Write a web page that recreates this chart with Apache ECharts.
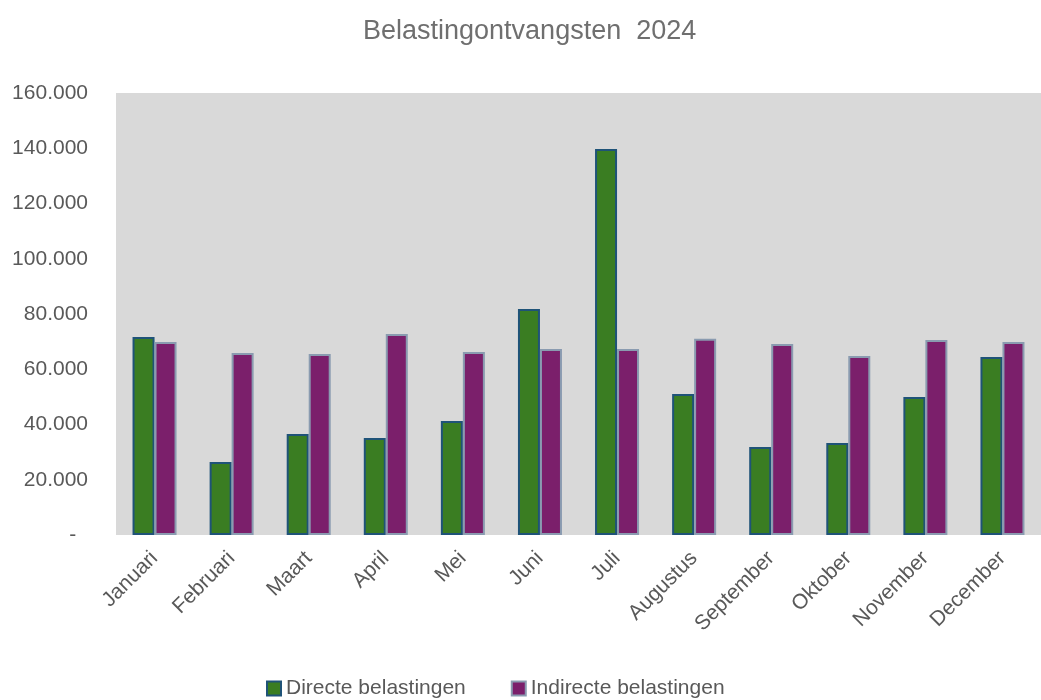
<!DOCTYPE html>
<html>
<head>
<meta charset="utf-8">
<script src="https://cdn.jsdelivr.net/npm/echarts@6/dist/echarts.min.js"></script>
<style>
  html, body { margin: 0; padding: 0; background: #fff; }
  #chart { width: 1041px; height: 700px; }
</style>
</head>
<body>
<div id="chart"></div>
<script>
var months = ['Januari', 'Februari', 'Maart', 'April', 'Mei', 'Juni', 'Juli',
  'Augustus', 'September', 'Oktober', 'November', 'December'];
var directe = [71700, 26400, 36600, 35100, 41300, 81800, 139700, 51000, 31900, 33300, 50000, 64400];
var indirecte = [69900, 65900, 65500, 72800, 66200, 67300, 67300, 71000, 69100, 64800, 70600, 69900];
var yTicks = [0, 20000, 40000, 60000, 80000, 100000, 120000, 140000, 160000];

var font = '"Liberation Sans Narrow", "Liberation Sans", Arial, sans-serif';
var chart = echarts.init(document.getElementById('chart'));

// excel-achtige notatie: punt als duizendtal-scheiding, nul als streepje
function fmt(v) {
  if (v === 0) return '-  ';
  return String(v).replace(/\B(?=(\d{3})+(?!\d))/g, '.');
}

chart.setOption({
  backgroundColor: '#fff',
  title: {
    text: 'Belastingontvangsten  2024',
    left: 358,
    top: 13,
    textStyle: { fontFamily: font, fontSize: 27, fontWeight: 'normal', color: '#6f6f6f' }
  },
  legend: {
    left: 261,
    top: 673,
    itemWidth: 14,
    itemHeight: 14,
    itemGap: 45,
    icon: 'rect',
    textStyle: { fontFamily: font, fontSize: 21, color: '#595959' },
    data: ['Directe belastingen', 'Indirecte belastingen']
  },
  grid: { left: 116, right: 0, top: 93, bottom: 165 },
  xAxis: {
    type: 'category',
    data: months,
    axisLine: { show: false },
    axisTick: { show: false },
    axisLabel: {
      rotate: 45,
      interval: 0,
      margin: 20,
      fontFamily: font,
      fontSize: 21,
      color: '#595959'
    }
  },
  yAxis: {
    type: 'value',
    min: yTicks[0],
    max: yTicks[yTicks.length - 1],
    interval: 20000,
    splitLine: { show: false },
    splitArea: { show: true, areaStyle: { color: ['#d9d9d9'] } },
    axisLine: { show: false },
    axisTick: { show: false },
    axisLabel: {
      margin: 28,
      fontFamily: font,
      fontSize: 21,
      color: '#595959',
      formatter: fmt
    }
  },
  series: [
    {
      name: 'Directe belastingen',
      type: 'bar',
      data: directe,
      barWidth: 22,
      barGap: '0%',
      itemStyle: { color: '#3a7d22', borderColor: '#1f5378', borderWidth: 2 }
    },
    {
      name: 'Indirecte belastingen',
      type: 'bar',
      data: indirecte,
      barWidth: 22,
      barGap: '0%',
      itemStyle: { color: '#7b1f6b', borderColor: '#8a9bb0', borderWidth: 2 }
    }
  ]
});
</script>
</body>
</html>
